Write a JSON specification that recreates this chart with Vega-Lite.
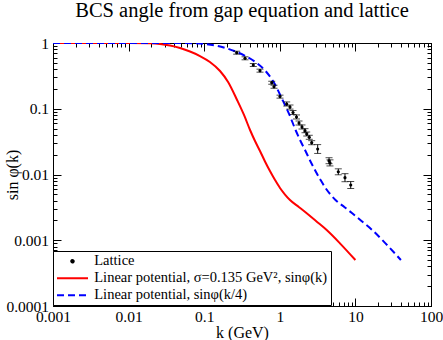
{
  "$schema": "https://vega.github.io/schema/vega-lite/v6.json",
  "width": 378,
  "height": 263,
  "autosize": {"type": "none"},
  "padding": {"left": 53, "top": 43, "right": 12, "bottom": 34},
  "background": "white",
  "title": {"text": "BCS angle from gap equation and lattice", "font": "Liberation Serif", "fontSize": 20.5, "fontWeight": "normal", "color": "black", "anchor": "middle", "frame": "group", "baseline": "alphabetic", "offset": -1.5},
  "config": {
    "view": {"stroke": "black", "strokeWidth": 1},
    "font": "Liberation Serif",
    "axis": {"domainColor": "black", "tickColor": "black", "tickWidth": 1, "grid": false, "labelFont": "Liberation Serif", "labelFontSize": 15.5, "labelColor": "black", "titleFont": "Liberation Serif", "titleFontSize": 16, "titleFontWeight": "normal", "titleColor": "black", "labelOverlap": false, "labelFlush": false}
  },
  "datasets": {
    "red": [
      {"k": 0.001, "y": 1}, {"k": 0.00319, "y": 1}, {"k": 0.01, "y": 1}, {"k": 0.0192, "y": 0.989}, {"k": 0.026, "y": 0.966}, {"k": 0.0353, "y": 0.916}, {"k": 0.0479, "y": 0.839}, {"k": 0.0649, "y": 0.743}, {"k": 0.0879, "y": 0.634}, {"k": 0.119, "y": 0.514}, {"k": 0.162, "y": 0.375}, {"k": 0.207, "y": 0.255}, {"k": 0.272, "y": 0.136}, {"k": 0.336, "y": 0.0804}, {"k": 0.404, "y": 0.0475}, {"k": 0.47, "y": 0.0323}, {"k": 0.547, "y": 0.0228}, {"k": 0.637, "y": 0.0158}, {"k": 0.741, "y": 0.0113}, {"k": 0.865, "y": 0.00825}, {"k": 1.006, "y": 0.00623}, {"k": 1.172, "y": 0.00496}, {"k": 1.364, "y": 0.00409}, {"k": 1.8, "y": 0.00318}, {"k": 2.27, "y": 0.00257}, {"k": 3.01, "y": 0.00196}, {"k": 4.17, "y": 0.00143}, {"k": 6.25, "y": 0.000898}, {"k": 10, "y": 0.0005}
    ],
    "blue": [
      {"k": 0.001, "y": 1}, {"k": 0.0128, "y": 1}, {"k": 0.04, "y": 1}, {"k": 0.0768, "y": 0.989}, {"k": 0.104, "y": 0.966}, {"k": 0.1412, "y": 0.916}, {"k": 0.1916, "y": 0.839}, {"k": 0.2596, "y": 0.743}, {"k": 0.3516, "y": 0.634}, {"k": 0.476, "y": 0.514}, {"k": 0.648, "y": 0.375}, {"k": 0.828, "y": 0.255}, {"k": 1.088, "y": 0.136}, {"k": 1.344, "y": 0.0804}, {"k": 1.616, "y": 0.0475}, {"k": 1.88, "y": 0.0323}, {"k": 2.188, "y": 0.0228}, {"k": 2.548, "y": 0.0158}, {"k": 2.964, "y": 0.0113}, {"k": 3.46, "y": 0.00825}, {"k": 4.024, "y": 0.00623}, {"k": 4.688, "y": 0.00496}, {"k": 5.456, "y": 0.00409}, {"k": 7.2, "y": 0.00318}, {"k": 9.08, "y": 0.00257}, {"k": 12.04, "y": 0.00196}, {"k": 16.68, "y": 0.00143}, {"k": 25, "y": 0.000898}, {"k": 40, "y": 0.0005}
    ],
    "lattice": [
      {"k": 0.269, "y": 0.712, "ylo": 0.676, "yhi": 0.75},
      {"k": 0.347, "y": 0.585, "ylo": 0.555, "yhi": 0.617},
      {"k": 0.446, "y": 0.463, "ylo": 0.439, "yhi": 0.488},
      {"k": 0.547, "y": 0.379, "ylo": 0.36, "yhi": 0.4},
      {"k": 0.782, "y": 0.249, "ylo": 0.236, "yhi": 0.262},
      {"k": 0.838, "y": 0.216, "ylo": 0.205, "yhi": 0.228},
      {"k": 1.006, "y": 0.153, "ylo": 0.145, "yhi": 0.161},
      {"k": 1.234, "y": 0.118, "ylo": 0.11, "yhi": 0.127},
      {"k": 1.364, "y": 0.106, "ylo": 0.0988, "yhi": 0.114},
      {"k": 1.496, "y": 0.0877, "ylo": 0.0817, "yhi": 0.0941},
      {"k": 1.663, "y": 0.075, "ylo": 0.0699, "yhi": 0.0805},
      {"k": 1.795, "y": 0.0607, "ylo": 0.0566, "yhi": 0.0651},
      {"k": 1.966, "y": 0.0528, "ylo": 0.0492, "yhi": 0.0567},
      {"k": 2.154, "y": 0.0464, "ylo": 0.0432, "yhi": 0.0498},
      {"k": 2.27, "y": 0.0413, "ylo": 0.0385, "yhi": 0.0443},
      {"k": 2.455, "y": 0.0368, "ylo": 0.0343, "yhi": 0.0395},
      {"k": 2.642, "y": 0.0305, "ylo": 0.0284, "yhi": 0.0327},
      {"k": 3.17, "y": 0.0244, "ylo": 0.0209, "yhi": 0.0285},
      {"k": 4.48, "y": 0.0162, "ylo": 0.0146, "yhi": 0.018},
      {"k": 4.61, "y": 0.015, "ylo": 0.0135, "yhi": 0.0167},
      {"k": 5.94, "y": 0.011, "ylo": 0.0099, "yhi": 0.0122},
      {"k": 7.28, "y": 0.00894, "ylo": 0.00777, "yhi": 0.0103},
      {"k": 8.67, "y": 0.00692, "ylo": 0.00612, "yhi": 0.00782}
    ]
  },
  "layer": [
    {
      "data": {"name": "red"},
      "mark": {"type": "line", "strokeWidth": 2, "interpolate": "monotone", "clip": true},
      "encoding": {
        "x": {"field": "k", "type": "quantitative", "scale": {"type": "log", "domain": [0.001, 100], "nice": false},
          "axis": {"orient": "bottom", "title": "k (GeV)", "titleY": 26, "titleBaseline": "middle",
            "values": [0.001,0.002,0.003,0.004,0.005,0.006,0.007,0.008,0.009,0.01,0.02,0.03,0.04,0.05,0.06,0.07,0.08,0.09,0.1,0.2,0.3,0.4,0.5,0.6,0.7,0.8,0.9,1,2,3,4,5,6,7,8,9,10,20,30,40,50,60,70,80,90,100],
            "labelExpr": "indexof([0.001,0.01,0.1,1,10,100], datum.value) >= 0 ? '' + datum.value : ''",
            "tickSize": {"condition": {"test": "indexof([0.001,0.01,0.1,1,10,100], datum.value) >= 0", "value": -8}, "value": -4},
            "labelPadding": 11}},
        "y": {"field": "y", "type": "quantitative", "scale": {"type": "log", "domain": [0.0001, 1], "nice": false},
          "axis": {"orient": "left", "title": "sin φ(k)", "titleX": -41, "titleY": 131.5, "titleAngle": 270, "titleBaseline": "middle", "titleAlign": "center",
            "values": [0.0001,0.0002,0.0003,0.0004,0.0005,0.0006,0.0007,0.0008,0.0009,0.001,0.002,0.003,0.004,0.005,0.006,0.007,0.008,0.009,0.01,0.02,0.03,0.04,0.05,0.06,0.07,0.08,0.09,0.1,0.2,0.3,0.4,0.5,0.6,0.7,0.8,0.9,1],
            "labelExpr": "indexof([0.0001,0.001,0.01,0.1,1], datum.value) >= 0 ? '' + datum.value : ''",
            "tickSize": {"condition": {"test": "indexof([0.0001,0.001,0.01,0.1,1], datum.value) >= 0", "value": -8}, "value": -4},
            "labelPadding": 12.5}},
        "color": {"datum": "Linear potential, σ=0.135 GeV², sinφ(k)", "type": "nominal",
          "scale": {"domain": ["Lattice", "Linear potential, σ=0.135 GeV², sinφ(k)", "Linear potential, sinφ(k/4)"], "range": ["#000000", "#ff0000", "#0000ff"]},
          "legend": {"orient": "none", "legendX": 0, "legendY": 208, "title": null, "strokeColor": "black", "fillColor": "white", "padding": 3, "rowPadding": 2,
            "labelFont": "Liberation Serif", "labelFontSize": 14.5, "labelColor": "black", "labelLimit": 400,
            "symbolSize": 100, "symbolOffset": 9.25, "labelOffset": 14.5,
            "encode": {"symbols": {"update": {
              "shape": {"signal": "datum.index === 0 ? 'M0.25,0A0.25,0.25,0,1,1,-0.25,0A0.25,0.25,0,1,1,0.25,0Z' : 'M-3.1,0H3.1'"},
              "size": {"value": 100},
              "fill": {"signal": "datum.index === 0 ? 'black' : 'transparent'"},
              "stroke": {"signal": "datum.index === 1 ? '#ff0000' : datum.index === 2 ? '#0000ff' : 'transparent'"},
              "strokeWidth": {"value": 2},
              "strokeDash": {"signal": "datum.index === 2 ? [7,4] : [1,0]"},
              "opacity": {"value": 1}
            }}}}}
      }
    },
    {
      "data": {"name": "blue"},
      "mark": {"type": "line", "strokeWidth": 2, "strokeDash": [7, 4], "interpolate": "monotone", "clip": true},
      "encoding": {
        "x": {"field": "k", "type": "quantitative",
          "axis": {"orient": "top", "title": null, "labels": false,
            "values": [0.001,0.002,0.003,0.004,0.005,0.006,0.007,0.008,0.009,0.01,0.02,0.03,0.04,0.05,0.06,0.07,0.08,0.09,0.1,0.2,0.3,0.4,0.5,0.6,0.7,0.8,0.9,1,2,3,4,5,6,7,8,9,10,20,30,40,50,60,70,80,90,100],
            "tickSize": {"condition": {"test": "indexof([0.001,0.01,0.1,1,10,100], datum.value) >= 0", "value": -8}, "value": -4}}},
        "y": {"field": "y", "type": "quantitative",
          "axis": {"orient": "right", "title": null, "labels": false,
            "values": [0.0001,0.0002,0.0003,0.0004,0.0005,0.0006,0.0007,0.0008,0.0009,0.001,0.002,0.003,0.004,0.005,0.006,0.007,0.008,0.009,0.01,0.02,0.03,0.04,0.05,0.06,0.07,0.08,0.09,0.1,0.2,0.3,0.4,0.5,0.6,0.7,0.8,0.9,1],
            "tickSize": {"condition": {"test": "indexof([0.0001,0.001,0.01,0.1,1], datum.value) >= 0", "value": -8}, "value": -4}}},
        "color": {"datum": "Linear potential, sinφ(k/4)", "type": "nominal"}
      }
    },
    {
      "data": {"name": "lattice"},
      "mark": {"type": "errorbar", "ticks": {"size": 7, "color": "black", "strokeWidth": 1}, "rule": {"color": "black", "strokeWidth": 1}},
      "encoding": {
        "x": {"field": "k", "type": "quantitative", "axis": null},
        "y": {"field": "ylo", "type": "quantitative", "axis": null},
        "y2": {"field": "yhi"}
      }
    },
    {
      "data": {"name": "lattice"},
      "mark": {"type": "point", "filled": true, "size": 10, "opacity": 1},
      "encoding": {
        "x": {"field": "k", "type": "quantitative", "axis": null},
        "y": {"field": "y", "type": "quantitative", "axis": null},
        "color": {"datum": "Lattice", "type": "nominal"}
      }
    }
  ],
  "resolve": {"axis": {"x": "independent", "y": "independent"}}
}
